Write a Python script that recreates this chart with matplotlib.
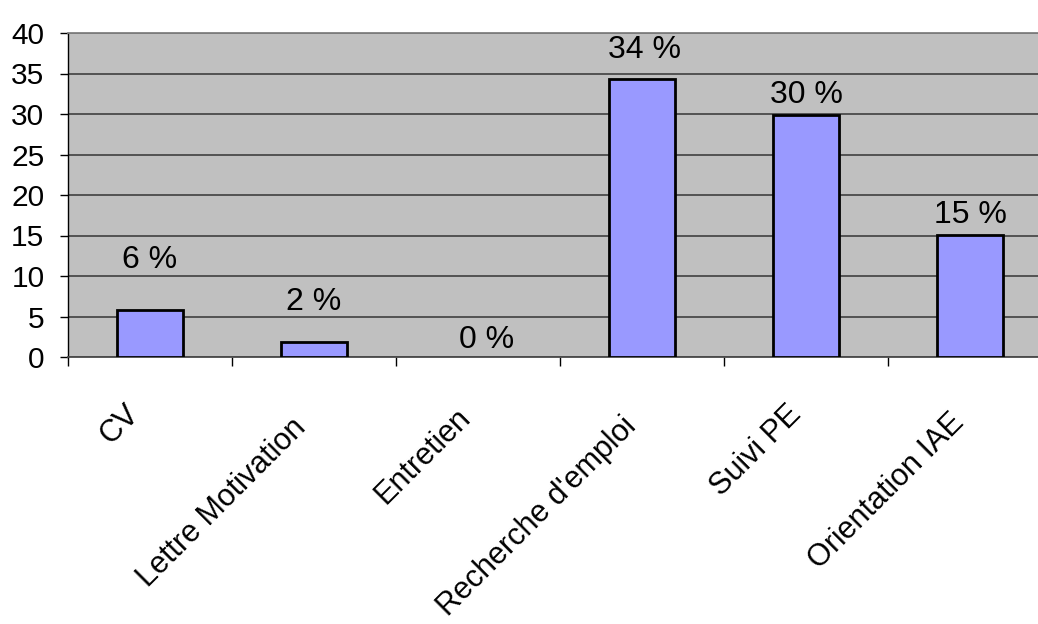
import numpy as np
import matplotlib
matplotlib.use("Agg")
import matplotlib.pyplot as plt
from matplotlib.transforms import ScaledTranslation

plt.rcParams['font.family'] = ['Liberation Sans', 'DejaVu Sans']

categories = ["CV", "Lettre Motivation", "Entretien", "Recherche d'emploi", "Suivi PE", "Orientation IAE"]
values = [5.8, 1.9, 0.0, 34.3, 29.9, 15.1]
yticks = [0, 5, 10, 15, 20, 25, 30, 35, 40]

# value label placement above each bar, in points
label_dy = [30, 23, 6.5, 15, 8.6, 8.6]
label_dx = [0, 0, 6, 2, 0, 0]
# nudges for the rotated category names, in pixels
name_dx = [-10, -7, -6, -5, -4, -5]
name_dy = [0, -13, -3, -12, 0, -8]

bar_color = '#9999FF'
plot_bg = '#C0C0C0'
grid_color = '#4a4a4a'

fig = plt.figure(figsize=(10.38, 6.24), dpi=100)
# plot area runs past the right edge of the figure
ax = fig.add_axes([68/1038, 1 - 357/624, 984/1038, 324/624])
ax.set_facecolor(plot_bg)

x = np.arange(len(categories))
ax.bar(x, values, width=0.40, color=bar_color, edgecolor='black',
       linewidth=[2 if v > 0 else 0 for v in values], zorder=3)

for i, v in enumerate(values):
    ax.annotate(f"{v:.0f} %", xy=(x[i], v), xytext=(label_dx[i], label_dy[i]),
                textcoords='offset points', ha='center', va='baseline',
                fontsize=23, zorder=4)

ax.set_xlim(-0.5, len(categories) - 0.5)
ax.set_ylim(0, 40)
ax.set_yticks(yticks)
ax.tick_params(axis='y', labelsize=21.5, length=6, width=1, pad=11)
ax.yaxis.grid(True, color=grid_color, linewidth=1.3)
ax.set_axisbelow(True)

# tick marks between categories, names at the centres
ax.set_xticks(np.arange(len(categories) + 1) - 0.5)
ax.set_xticklabels([])
ax.tick_params(axis='x', which='major', length=6.5, width=1)
ax.set_xticks(x, categories, minor=True)
ax.tick_params(axis='x', which='minor', length=0, pad=42, labelsize=22)
for i, lbl in enumerate(ax.get_xticklabels(minor=True)):
    lbl.set_rotation(45)
    lbl.set_rotation_mode('anchor')
    lbl.set_ha('right')
    lbl.set_va('baseline')
    lbl.set_transform(lbl.get_transform() +
                      ScaledTranslation(name_dx[i] / 100, name_dy[i] / 100, fig.dpi_scale_trans))

ax.spines['left'].set_color('black')
ax.spines['left'].set_linewidth(1)
ax.spines['bottom'].set_color(grid_color)
ax.spines['bottom'].set_linewidth(1.3)
ax.spines['top'].set_color('#808080')
ax.spines['top'].set_linewidth(1.3)
ax.spines['right'].set_visible(False)

fig.savefig('out.png', dpi=100)
